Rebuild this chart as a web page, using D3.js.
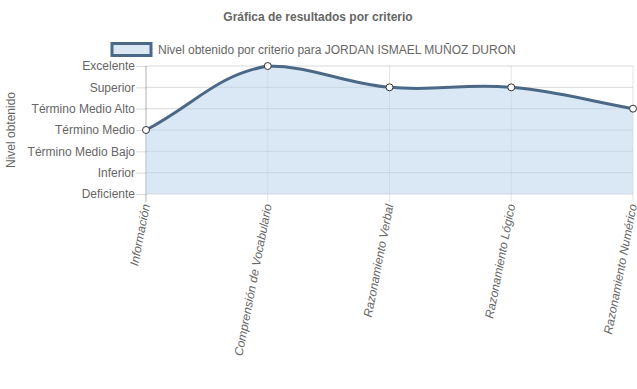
<!DOCTYPE html>
<html>
<head>
<meta charset="utf-8">
<script src="https://cdn.jsdelivr.net/npm/d3@7"></script>
<style>
body { margin: 0; background: #fff; }
svg text { font-family: "Liberation Sans", Arial, sans-serif; fill: #666; }
</style>
</head>
<body>
<div id="chart"></div>
<script>
// Gráfica de resultados por criterio

var categories = ["Información", "Comprensión de Vocabulario", "Razonamiento Verbal", "Razonamiento Lógico", "Razonamiento Numérico"];
var levels = ["Deficiente", "Inferior", "Término Medio Bajo", "Término Medio", "Término Medio Alto", "Superior", "Excelente"];
var values = [3, 6, 5, 5, 4];
var seriesName = "Nivel obtenido por criterio para JORDAN ISMAEL MUÑOZ DURON";

var width = 637, height = 389;
var areaLeft = 146, areaRight = 633, areaTop = 66, areaBottom = 194;
var lineColor = "#4b6987", fillColor = "rgba(187,214,236,0.55)";

var svg = d3.select("#chart").append("svg")
  .attr("width", width)
  .attr("height", height);

var x = d3.scalePoint().domain(categories).range([areaLeft, areaRight]);
var y = d3.scaleLinear().domain([0, levels.length - 1]).range([areaBottom, areaTop]);

// title
svg.append("text")
  .attr("x", 318).attr("y", 21)
  .attr("text-anchor", "middle")
  .style("font-size", "12px").style("font-weight", "bold")
  .text("Gráfica de resultados por criterio");

// legend
svg.append("rect")
  .attr("x", 112).attr("y", 43.5).attr("width", 39).attr("height", 12)
  .attr("fill", "#dbe8f4").attr("stroke", lineColor).attr("stroke-width", 3);
svg.append("text")
  .attr("x", 158).attr("y", 54)
  .style("font-size", "12px")
  .text(seriesName);

// y axis
var yAxis = svg.append("g")
  .attr("transform", "translate(" + areaLeft + ",0)")
  .call(d3.axisLeft(y).tickValues(d3.range(levels.length))
    .tickFormat(function (d) { return levels[d]; })
    .tickSize(10).tickPadding(1));
yAxis.select(".domain").remove();
yAxis.selectAll("line").attr("stroke", "rgba(0,0,0,0.15)");
yAxis.selectAll("text").style("font-size", "12px").attr("fill", "#666");

// horizontal grid
svg.append("g").selectAll("line").data(d3.range(levels.length)).enter().append("line")
  .attr("x1", areaLeft).attr("x2", areaRight)
  .attr("y1", function (d) { return y(d); }).attr("y2", function (d) { return y(d); })
  .attr("stroke", "rgba(0,0,0,0.15)");

// vertical grid
svg.append("g").selectAll("line").data(categories).enter().append("line")
  .attr("x1", function (d) { return x(d); }).attr("x2", function (d) { return x(d); })
  .attr("y1", areaTop).attr("y2", areaBottom + 8)
  .attr("stroke", function (d, i) { return i === 0 ? "rgba(0,0,0,0.3)" : "rgba(0,0,0,0.1)"; });

// y title
svg.append("text")
  .attr("transform", "translate(15," + ((areaTop + areaBottom) / 2) + ") rotate(-90)")
  .attr("text-anchor", "middle")
  .style("font-size", "12px")
  .text("Nivel obtenido");

// x labels
svg.append("g").selectAll("text").data(categories).enter().append("text")
  .attr("transform", function (d) { return "translate(" + (x(d) + 4) + "," + (areaBottom + 11) + ") rotate(-79)"; })
  .attr("text-anchor", "end")
  .style("font-size", "12px").style("font-style", "italic")
  .text(function (d) { return d; });

// spline like Chart.js (tension 0.4, capped to chart area)
var pts = values.map(function (v, i) { return [x(categories[i]), y(v)]; });
function controls(p) {
  var t = 0.4, out = [];
  for (var i = 0; i < p.length; i++) {
    var prev = p[Math.max(i - 1, 0)], cur = p[i], next = p[Math.min(i + 1, p.length - 1)];
    var d01 = Math.hypot(cur[0] - prev[0], cur[1] - prev[1]);
    var d12 = Math.hypot(next[0] - cur[0], next[1] - cur[1]);
    var fa = d01 / (d01 + d12 || 1), fb = d12 / (d01 + d12 || 1);
    var c1 = [cur[0] - fa * t * (next[0] - prev[0]), cur[1] - fa * t * (next[1] - prev[1])];
    var c2 = [cur[0] + fb * t * (next[0] - prev[0]), cur[1] + fb * t * (next[1] - prev[1])];
    [c1, c2].forEach(function (c) {
      c[0] = Math.max(areaLeft, Math.min(areaRight, c[0]));
      c[1] = Math.max(areaTop, Math.min(areaBottom, c[1]));
    });
    out.push([c1, c2]);
  }
  return out;
}
var cps = controls(pts);
function curve(p) {
  p.moveTo(pts[0][0], pts[0][1]);
  for (var i = 1; i < pts.length; i++) {
    var a = cps[i - 1][1], b = cps[i][0];
    p.bezierCurveTo(a[0], a[1], b[0], b[1], pts[i][0], pts[i][1]);
  }
  return p;
}
var area = curve(d3.path());
area.lineTo(pts[pts.length - 1][0], areaBottom);
area.lineTo(pts[0][0], areaBottom);
area.closePath();

svg.append("path").attr("d", area.toString()).attr("fill", fillColor);
svg.append("path").attr("d", curve(d3.path()).toString())
  .attr("fill", "none").attr("stroke", lineColor).attr("stroke-width", 3);

svg.append("g").selectAll("circle").data(pts).enter().append("circle")
  .attr("cx", function (d) { return d[0]; }).attr("cy", function (d) { return d[1]; })
  .attr("r", 3.5).attr("fill", "#fff").attr("stroke", "#333").attr("stroke-width", 1);
</script>
</body>
</html>
